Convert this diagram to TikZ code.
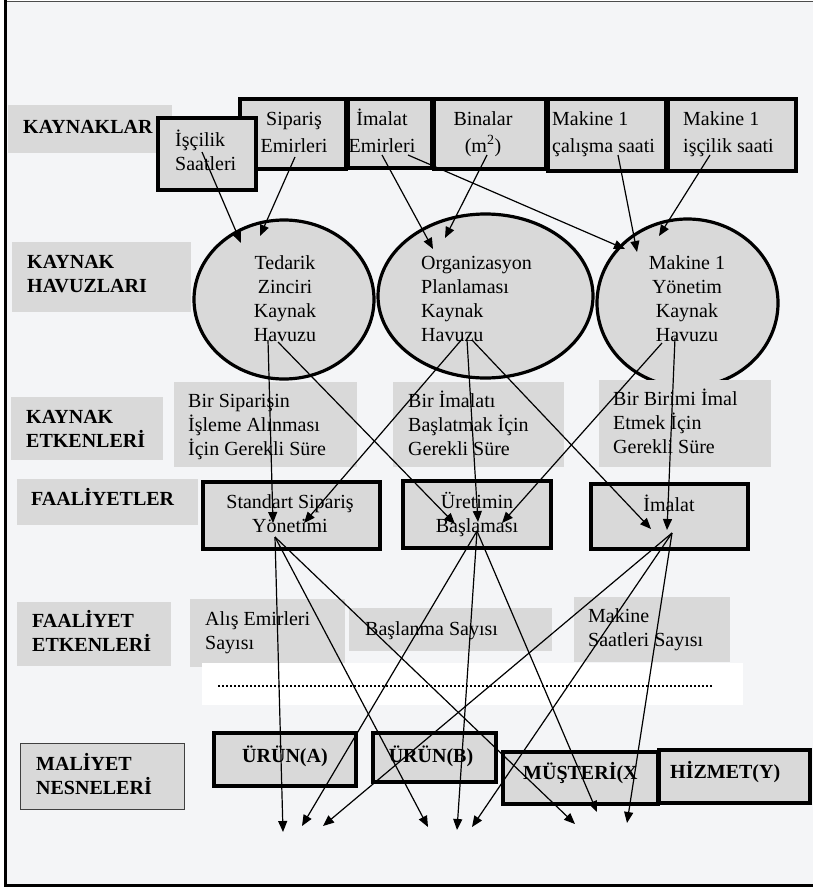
\documentclass[tikz,border=0pt]{standalone}
\usepackage{fontspec}
\setmainfont{Liberation Serif}
\usetikzlibrary{arrows.meta,shapes.geometric}
\definecolor{pagebg}{HTML}{F4F5F7}
\definecolor{boxgray}{HTML}{D9D9D9}
\tikzset{
  panel/.style args={#1x#2}{fill=boxgray, draw=none, inner sep=0, outer sep=0,
    minimum width=#1pt, minimum height=#2pt},
  heavy/.style args={#1x#2}{fill=boxgray, draw=black, line width=3.4pt, inner sep=0,
    outer sep=0, minimum width=#1pt-2pt, minimum height=#2pt-2pt},
  pool/.style={ellipse, fill=boxgray, draw=black, line width=3.2pt, inner sep=0},
  txt/.style={inner sep=0, font=\fontsize{20}{24}\selectfont},
  tall/.style={inner sep=0, font=\fontsize{20}{27}\selectfont},
  head/.style={inner sep=0, font=\fontsize{20}{24.5}\selectfont\bfseries},
  arr/.style={line width=1.2pt, -{Triangle[length=11pt,width=9pt]}},
}
\begin{document}
% multi-line texts are placed by the baseline of their last line
\begin{tikzpicture}[x=1pt,y=-1pt]
\useasboundingbox (0,0) rectangle (813,888);
% page and frame
\fill[white] (0,0) rectangle (813,888);
\fill[pagebg] (5,1) rectangle (813,886);
\draw[line width=1.5pt, black!70] (5,1.5) -- (813,1.5);
\draw[line width=3pt] (5.5,0) -- (5.5,887);
\draw[line width=3pt] (4,885.5) -- (813,885.5);

% level labels
\node[panel=164x48] (lKay) at (90,129) {};
\node[panel=179x70] (lHav) at (101.5,277) {};
\node[panel=152x63] (lRet) at (87,428.5) {};
\node[panel=181x46] (lFaal) at (107.5,502) {};
\node[panel=154x64] (lFet) at (94,634) {};
\node[panel=164x66, draw=black!75, line width=1pt] (lMal) at (102,776) {};

\node[head, anchor=base west] (tKay) at (23,133) {KAYNAKLAR};
\node[head, anchor=base west, align=left] (tHav) at (27,292.5) {KAYNAK\\HAVUZLARI};
\node[head, anchor=base west, align=left] (tRet) at (26,447.5) {KAYNAK\\ETKENLERİ};
\node[head, anchor=base west] (tFaal) at (31,505) {FAALİYETLER};
\node[head, anchor=base west, align=left] (tFet) at (32,651.5) {FAALİYET\\ETKENLERİ};
\node[head, anchor=base west, align=left] (tMal) at (36,794.5) {MALİYET\\NESNELERİ};

% resources
\node[heavy=108x72] (rSip) at (293,134) {};
\node[heavy=86x71] (rIma) at (390,133.5) {};
\node[heavy=114x72] (rBin) at (490,134) {};
\node[heavy=120x74] (rMk1) at (607,135) {};
\node[heavy=130x74] (rMk2) at (732,135) {};
\node[heavy=100x74] (rIsc) at (207,154) {};

\node[tall, anchor=base, align=center] (tSip) at (294,152) {Sipariş\\Emirleri};
\node[tall, anchor=base, align=center] (tIma) at (382,152) {İmalat\\Emirleri};
\node[tall, anchor=base, align=center] (tBin) at (483,152.5) {Binalar\\(m\textsuperscript{2})};
\node[tall, anchor=base west, align=left] (tMk1) at (552,152) {Makine 1\\çalışma saati};
\node[tall, anchor=base west, align=left] (tMk2) at (683,152) {Makine 1\\işçilik saati};
\node[txt, anchor=base west, align=left] (tIsc) at (175,170) {İşçilik\\Saatleri};

% resource pools
\node[pool, minimum width=180pt, minimum height=159pt] (pTed) at (284,299.5) {};
\node[pool, minimum width=215pt, minimum height=164pt] (pOrg) at (485.5,296) {};
\node[pool, minimum width=181pt, minimum height=168pt] (pMak) at (687.5,303) {};

\node[txt, anchor=base, align=center] (tTed) at (285,341) {Tedarik\\Zinciri\\Kaynak\\Havuzu};
\node[txt, anchor=base west, align=left] (tOrg) at (421,341) {Organizasyon\\Planlaması\\Kaynak\\Havuzu};
\node[txt, anchor=base, align=center] (tMak) at (687,341) {Makine 1\\Yönetim\\Kaynak\\Havuzu};

% resource drivers
\node[panel=183x85] (dSip) at (265.5,424.5) {};
\node[panel=171x85] (dIma) at (478.5,424.5) {};
\node[panel=172x87] (dBir) at (685,423.5) {};
\node[txt, anchor=base west, align=left] (tdSip) at (188,455) {Bir Siparişin\\İşleme Alınması\\İçin Gerekli Süre};
\node[txt, anchor=base west, align=left] (tdIma) at (408,455) {Bir İmalatı\\Başlatmak İçin\\Gerekli Süre};
\node[txt, anchor=base west, align=left] (tdBir) at (613,453) {Bir Birimi İmal\\Etmek İçin\\Gerekli Süre};

% activities
\node[heavy=179x69] (aStd) at (291.5,515.5) {};
\node[heavy=150x69] (aUre) at (477,514.5) {};
\node[heavy=159x67] (aIma) at (669.5,516.5) {};
\node[txt, anchor=base, align=center] (taStd) at (290,532) {Standart Sipariş\\Yönetimi};
\node[txt, anchor=base, align=center] (taUre) at (477,532) {Üretimin\\Başlaması};
\node[txt, anchor=base] (taIma) at (669,511) {İmalat};

% activity drivers
\node[panel=155x68] (fAlis) at (267.5,633) {};
\node[panel=203x43] (fBas) at (450.5,629.5) {};
\node[panel=156x65] (fMak) at (652,629.5) {};
\node[txt, anchor=base west, align=left] (tfAlis) at (205,649) {Alış Emirleri\\Sayısı};
\node[txt, anchor=base west] (tfBas) at (365,635) {Başlanma Sayısı};
\node[txt, anchor=base west, align=left] (tfMak) at (588,646) {Makine\\Saatleri Sayısı};

% white strip with dotted rule
\node[fill=white, inner sep=0, minimum width=541pt, minimum height=42pt] (strip) at (472.5,684) {};
\coordinate (dotL) at (218,686);
\coordinate (dotR) at (712,686);
\draw[line width=2.4pt, dash pattern=on 2.2pt off 1.8pt] (dotL) -- (dotR);

% cost objects
\node[heavy=144x55] (cA) at (285,759.5) {};
\node[heavy=125x51] (cB) at (434.5,757.5) {};
\node[heavy=157x54] (cX) at (580.5,778) {};
\node[heavy=153x55] (cY) at (734.5,776.5) {};
\node[head, anchor=base] (tcA) at (285,762) {ÜRÜN(A)};
\node[head, anchor=base] (tcB) at (431,762) {ÜRÜN(B)};
\node[head, anchor=base west] (tcX) at (523,779) {MÜŞTERİ(X};
\node[head, anchor=base west] (tcY) at (670,778) {HİZMET(Y)};

% connector end points
\coordinate (o1) at (202,152);  \coordinate (i1) at (241,243);
\coordinate (o2) at (295,157);  \coordinate (i2) at (260,236);
\coordinate (o3) at (382,155);  \coordinate (i3) at (433,249);
\coordinate (o4) at (487,155);  \coordinate (i4) at (445,238);
\coordinate (o5) at (408,155);  \coordinate (i5) at (625,249);
\coordinate (o6) at (618,155);  \coordinate (i6) at (637,252);
\coordinate (o7) at (710,155);  \coordinate (i7) at (659,236);

\coordinate (pT1) at (268,340); \coordinate (pT2) at (278,342);
\coordinate (pO1) at (463,338); \coordinate (pO2) at (467,340); \coordinate (pO3) at (472,340);
\coordinate (pM1) at (662,343); \coordinate (pM2) at (675,338);
\coordinate (sA) at (273,523);  \coordinate (sB) at (304,523);
\coordinate (uA) at (455,524);  \coordinate (uB) at (478,522); \coordinate (uC) at (502,523);
\coordinate (mA) at (651,529);  \coordinate (mB) at (667,530);

\coordinate (xStd) at (275,537);
\coordinate (xUre) at (477,531);
\coordinate (xIma) at (672,533);
\coordinate (k1) at (283,832); \coordinate (k2) at (302,826); \coordinate (k3) at (323,826);
\coordinate (k4) at (428,827); \coordinate (k5) at (457,830); \coordinate (k6) at (472,827);
\coordinate (k7) at (575,824); \coordinate (k8) at (597,812); \coordinate (k9) at (627,823);

% resources to pools
\draw[arr] (o1) -- (i1);
\draw[arr] (o2) -- (i2);
\draw[arr] (o3) -- (i3);
\draw[arr] (o4) -- (i4);
\draw[arr] (o5) -- (i5);
\draw[arr] (o6) -- (i6);
\draw[arr] (o7) -- (i7);

% pools to activities
\draw[arr] (pT1) -- (sA);
\draw[arr] (pT2) -- (uA);
\draw[arr] (pO1) -- (sB);
\draw[arr] (pO2) -- (uB);
\draw[arr] (pO3) -- (mA);
\draw[arr] (pM1) -- (uC);
\draw[arr] (pM2) -- (mB);

% activities to cost objects
\draw[arr] (xStd) -- (k1);
\draw[arr] (xStd) -- (k4);
\draw[arr] (xStd) -- (k7);
\draw[arr] (xUre) -- (k2);
\draw[arr] (xUre) -- (k5);
\draw[arr] (xUre) -- (k8);
\draw[arr] (xIma) -- (k3);
\draw[arr] (xIma) -- (k6);
\draw[arr] (xIma) -- (k9);
\end{tikzpicture}
\end{document}
